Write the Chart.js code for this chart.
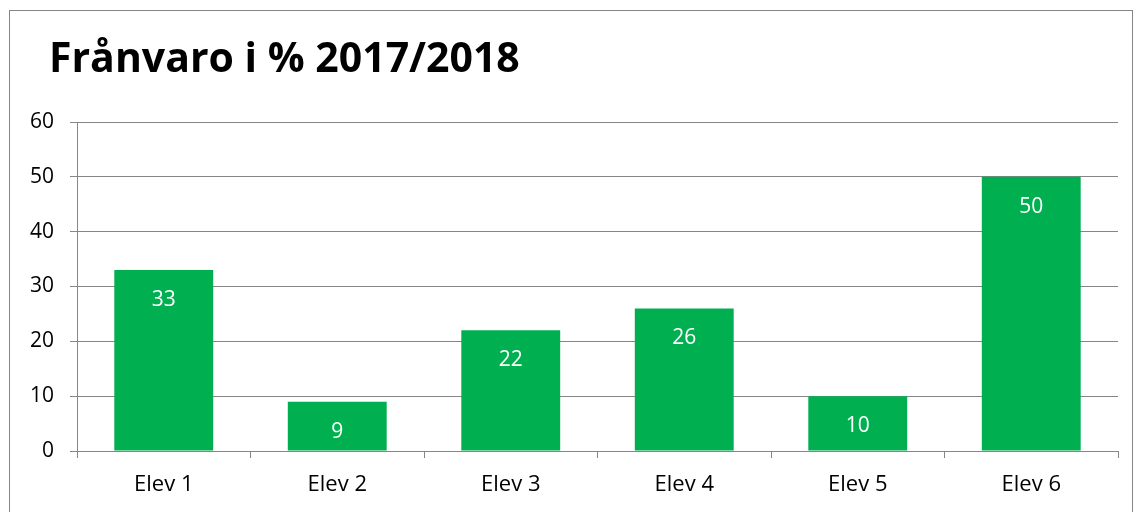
<!DOCTYPE html>
<html>
<head>
<meta charset="utf-8">
<script src="https://cdn.jsdelivr.net/npm/chart.js@4"></script>
<style>
  html, body { margin: 0; padding: 0; background: #fff; overflow: hidden; }
  #wrap { position: relative; width: 1135px; height: 512px; }
  #frame { position: absolute; left: 9px; top: 10px; width: 1124px; height: 520px; border: 1px solid #868686; box-sizing: border-box; }
  canvas { position: absolute; left: 0; top: 0; }
</style>
</head>
<body>
<div id="wrap">
  <div id="frame"></div>
  <canvas id="myChart1" width="1135" height="512"></canvas>
</div>
<script>
var titulo = 'Frånvaro i % 2017/2018';
var elever = ['Elev 1', 'Elev 2', 'Elev 3', 'Elev 4', 'Elev 5', 'Elev 6'];
var franvaro = [33, 9, 22, 26, 10, 50];
var yTicks = [0, 10, 20, 30, 40, 50, 60];

var gris = '#868686';
var verde = '#00B050';

// titel och etiketter inuti staplarna
var etiketter = {
	id: 'etiketter',
	afterDatasetsDraw: function(chart) {
		var ctx = chart.ctx;
		var meta = chart.getDatasetMeta(0);
		ctx.save();
		ctx.fillStyle = '#ffffff';
		ctx.font = '21px "Open Sans"';
		ctx.textAlign = 'center';
		ctx.textBaseline = 'middle';
		meta.data.forEach(function(bar, i) {
			ctx.fillText(String(franvaro[i]), bar.x, bar.y + 30);
		});
		ctx.restore();
	},
	afterDraw: function(chart) {
		var ctx = chart.ctx;
		ctx.save();
		ctx.fillStyle = '#000000';
		ctx.font = 'bold 41px "Open Sans"';
		ctx.textAlign = 'left';
		ctx.textBaseline = 'alphabetic';
		ctx.fillText(titulo, 49, 72);
		ctx.restore();
	}
};

var myChart1 = document.getElementById('myChart1').getContext('2d');
var massPopChart = new Chart(myChart1, {
	type: 'bar',
	data: {
		labels: elever,
		datasets: [{
			label: titulo,
			data: franvaro,
			backgroundColor: verde,
			borderWidth: 0,
			barPercentage: 0.57,
			categoryPercentage: 1
		}]
	},
	plugins: [etiketter],
	options: {
		responsive: false,
		animation: false,
		layout: { padding: { top: 122, right: 17, left: 0, bottom: 0 } },
		plugins: {
			legend: { display: false },
			title: { display: false },
			tooltip: { enabled: false }
		},
		scales: {
			y: {
				min: 0,
				max: 60,
				afterBuildTicks: function(axis) {
					axis.ticks = yTicks.map(function(v) { return { value: v }; });
				},
				afterFit: function(axis) { axis.width = 77; },
				border: { color: gris, width: 1 },
				grid: { color: gris, lineWidth: 1, tickLength: 7, tickColor: gris },
				ticks: { color: '#000', padding: 16, font: { family: '"Open Sans"', size: 21 } }
			},
			x: {
				afterFit: function(axis) { axis.height = 61; },
				border: { color: gris, width: 1 },
				grid: { color: gris, drawOnChartArea: false, tickLength: 7, tickColor: gris, offset: true },
				ticks: { color: '#000', padding: 14, font: { family: '"Open Sans"', size: 22 } }
			}
		}
	}
});
</script>
</body>
</html>
